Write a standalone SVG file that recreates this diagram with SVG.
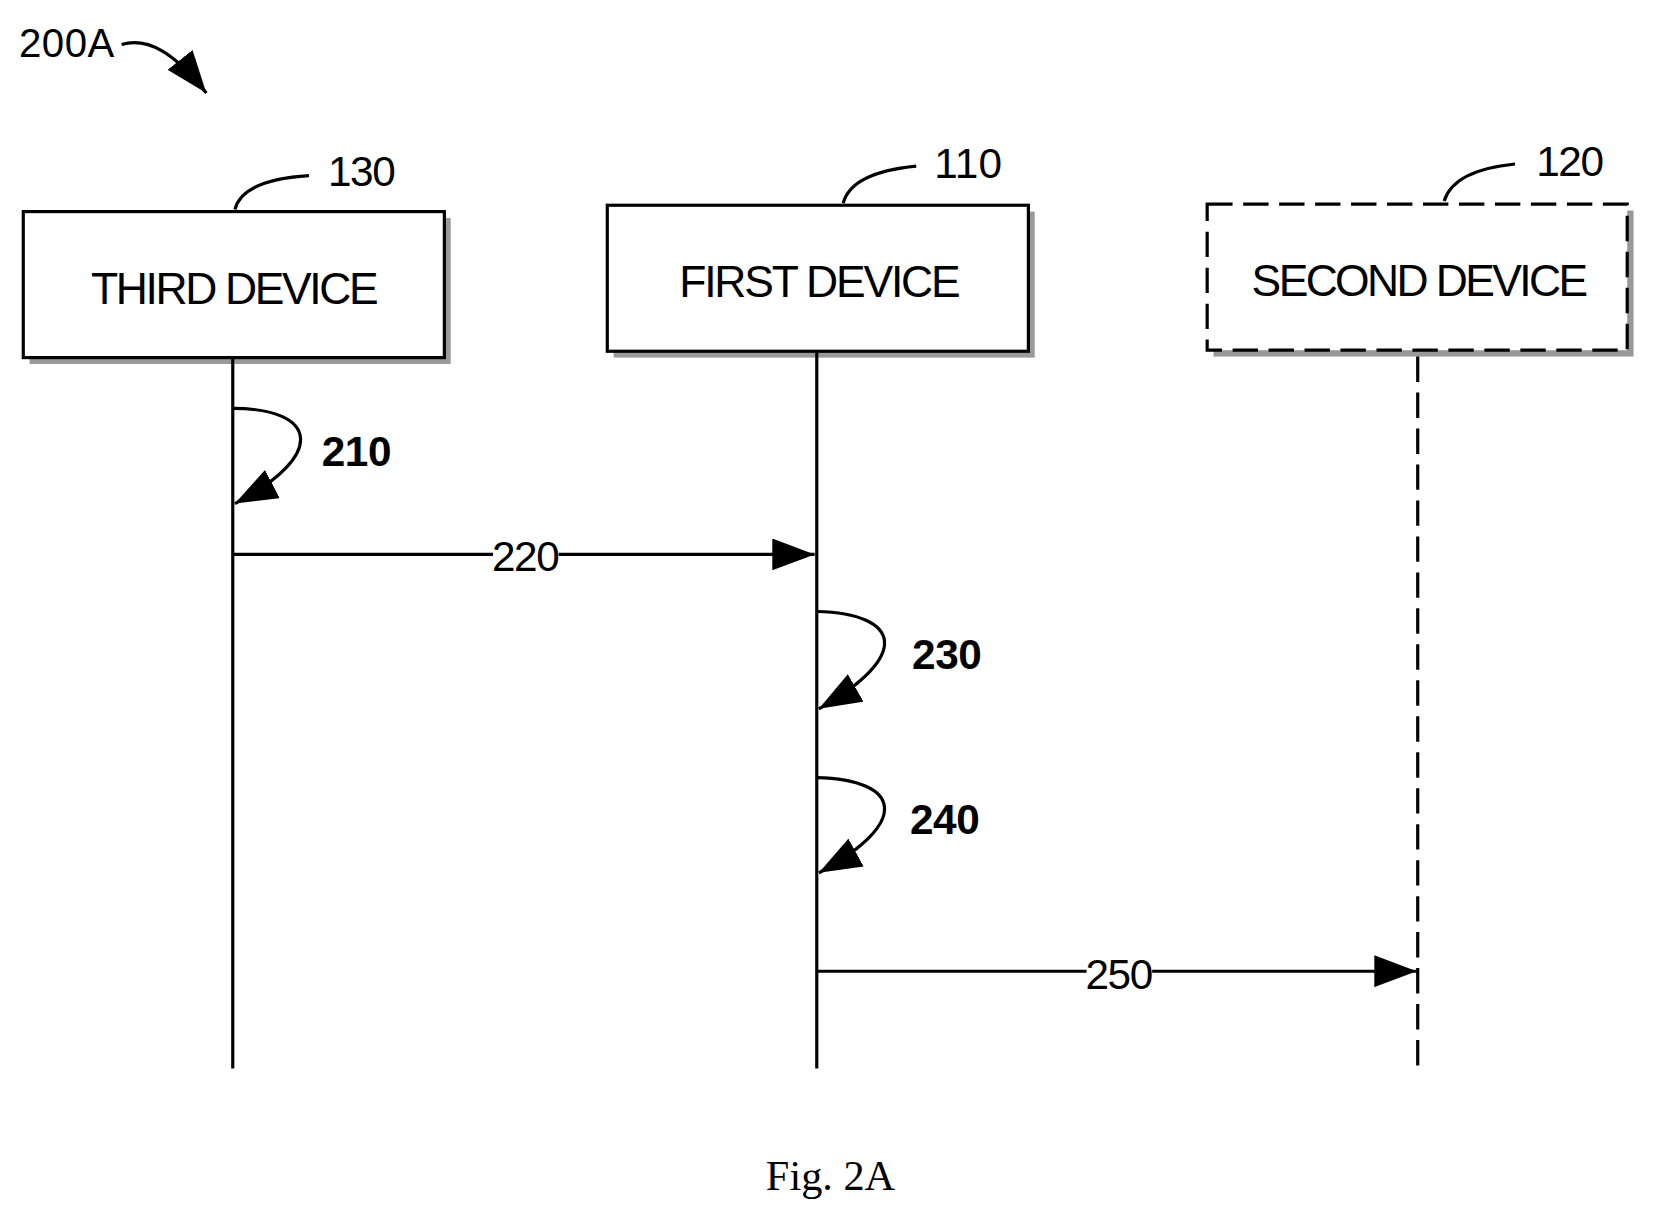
<svg xmlns="http://www.w3.org/2000/svg" width="1658" height="1222" viewBox="0 0 1658 1222">
<defs>
<style>
.t{font-family:"Liberation Sans",Arial,sans-serif;fill:#000}
.ln{stroke:#000;stroke-width:3;fill:none}
.box{fill:#fff;stroke:#000;stroke-width:3}
.sh{fill:#999}
</style>
<marker id="a" viewBox="0 0 40 30" refX="40" refY="15" markerWidth="40" markerHeight="30" orient="auto" markerUnits="userSpaceOnUse">
<path d="M0,0 L40,15 L0,30 Z" fill="#000"/>
</marker>
</defs>
<rect width="1658" height="1222" fill="#fff"/>
<g transform="scale(1.058,1.058)">
<g id="label200A">
<text class="t" x="18" y="54" font-size="38" textLength="90">200A</text>
<path class="ln" d="M115,42 C140,35 165,50 195,88" marker-end="url(#a)"/>
</g>
<g id="third">
<rect class="sh" x="28" y="206" width="398" height="138"/>
<rect class="box" x="22" y="200" width="398" height="138"/>
<text class="t" x="222" y="287" font-size="42" text-anchor="middle" textLength="272">THIRD DEVICE</text>
<path class="ln" d="M222,198 C228,175 260,168 292,166"/>
<text class="t" x="310" y="176" font-size="40" textLength="64">130</text>
</g>
<g id="first">
<rect class="sh" x="580" y="200" width="398" height="138"/>
<rect class="box" x="574" y="194" width="398" height="138"/>
<text class="t" x="775" y="281" font-size="42" text-anchor="middle" textLength="266">FIRST DEVICE</text>
<path class="ln" d="M797,192 C803,169 835,160 866,157"/>
<text class="t" x="883" y="168" font-size="40" textLength="64">110</text>
</g>
<g id="second">
<rect class="sh" x="1147" y="199" width="397" height="138"/>
<rect class="box" x="1141" y="193" width="397" height="138" stroke-dasharray="24,10"/>
<text class="t" x="1342" y="280" font-size="42" text-anchor="middle" textLength="318">SECOND DEVICE</text>
<path class="ln" d="M1365,190 C1372,167 1402,158 1432,155"/>
<text class="t" x="1452" y="166" font-size="40" textLength="64">120</text>
</g>
<g id="connectors">
<line class="ln" x1="220" y1="338" x2="220" y2="1010"/>
<line class="ln" x1="772" y1="332" x2="772" y2="1010"/>
<line class="ln" x1="1340" y1="337" x2="1340" y2="1010" stroke-dasharray="24,10"/>
<path class="ln" d="M220,386 C300,386 310,430 222,476" marker-end="url(#a)"/>
<path class="ln" d="M772,578 C852,580 862,620 774,670" marker-end="url(#a)"/>
<path class="ln" d="M772,735 C852,737 862,777 774,825" marker-end="url(#a)"/>
<line class="ln" x1="220" y1="524" x2="770" y2="524" marker-end="url(#a)"/>
<line class="ln" x1="772" y1="918" x2="1339" y2="918" marker-end="url(#a)"/>
<rect x="466" y="508" width="62" height="30" fill="#fff"/>
<rect x="1027" y="902" width="62" height="30" fill="#fff"/>
</g>
<g id="labels">
<text class="t" x="304" y="440" font-size="40" font-weight="bold" textLength="66">210</text>
<text class="t" x="465" y="540" font-size="40" textLength="64">220</text>
<text class="t" x="862" y="632" font-size="40" font-weight="bold" textLength="66">230</text>
<text class="t" x="860" y="788" font-size="40" font-weight="bold" textLength="66">240</text>
<text class="t" x="1026" y="935" font-size="40" textLength="64">250</text>
<text x="785" y="1125" font-size="40" text-anchor="middle" font-family="Liberation Serif,serif">Fig. 2A</text>
</g>
</g>
</svg>
